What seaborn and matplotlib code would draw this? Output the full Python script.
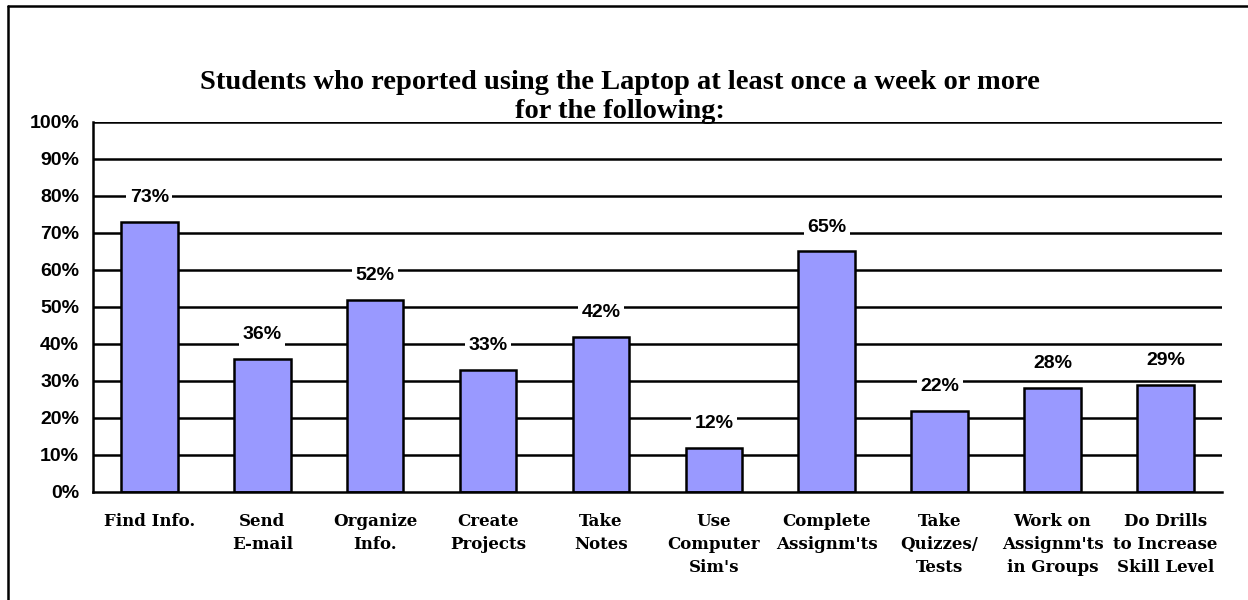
import matplotlib
matplotlib.use("Agg")
import matplotlib.pyplot as plt
import seaborn as sns
import pandas as pd
import numpy as np
from matplotlib.lines import Line2D

# data
activities = ["Find Info.", "Send\nE-mail", "Organize\nInfo.", "Create\nProjects", "Take\nNotes",
              "Use\nComputer\nSim's", "Complete\nAssignm'ts", "Take\nQuizzes/\nTests",
              "Work on\nAssignm'ts\nin Groups", "Do Drills\nto Increase\nSkill Level"]
percent = [73, 36, 52, 33, 42, 12, 65, 22, 28, 29]
yticks = list(range(0, 101, 10))
title_lines = ["Students who reported using the Laptop at least once a week or more",
               "for the following:"]

df = pd.DataFrame({"Activity": activities, "Percent": percent})

sns.set_style("white")
plt.rcParams["text.color"] = "black"
plt.rcParams["xtick.color"] = "black"
plt.rcParams["ytick.color"] = "black"
plt.rcParams["axes.labelcolor"] = "black"

fig = plt.figure(figsize=(12.48, 6), dpi=100)
ax = fig.add_axes([0.0745, 0.18, 0.9045, 0.6167])

ax.set_axisbelow(True)
for t in yticks[1:]:
    ax.axhline(t, color="black", lw=1.8, zorder=0)

sns.barplot(data=df, x="Activity", y="Percent", color="#9999FF", edgecolor="black",
            linewidth=1.8, width=0.5, saturation=1, ax=ax, zorder=2)

for i, v in enumerate(percent):
    ax.text(i, v + 6.6, f"{v}%", ha="center", va="center", fontsize=14, fontweight="bold",
            family="Liberation Sans", color="black", zorder=3,
            bbox=dict(facecolor="white", edgecolor="none", pad=2.5))

ax.set_ylim(0, 100)
ax.set_xlim(-0.5, len(activities) - 0.5)
ax.set_yticks(yticks)
ax.set_yticklabels([f"{t}%" for t in yticks], fontsize=14, fontweight="bold", family="Liberation Sans")
ax.set_xticks(range(len(activities)))
ax.set_xticklabels(activities, fontsize=12, fontweight="bold", family="DejaVu Serif", linespacing=1.45)
ax.set_xlabel("")
ax.set_ylabel("")
ax.tick_params(axis="x", which="major", length=0, pad=15)
ax.set_xticks(np.arange(-0.5, len(activities), 1), minor=True)
ax.tick_params(axis="x", which="minor", length=7, width=1.8, direction="out", color="black")
ax.tick_params(axis="y", length=6, width=1.8, direction="out", color="black", pad=4)

for s in ["top", "right"]:
    ax.spines[s].set_visible(False)
for s in ["left", "bottom"]:
    ax.spines[s].set_color("black")
    ax.spines[s].set_linewidth(1.8)

# title, two lines on their own baselines
for line, base_px in zip(title_lines, [89, 118]):
    fig.text(0.497, 1 - base_px / 600, line, ha="center", va="baseline", fontsize=20.5,
             fontweight="bold", family="Liberation Serif", color="black")

# outer chart border (top and left visible)
fig.add_artist(Line2D([8 / 1248, 8 / 1248], [0, 1 - 6 / 600], transform=fig.transFigure, color="black", lw=1.8))
fig.add_artist(Line2D([8 / 1248, 1], [1 - 6 / 600, 1 - 6 / 600], transform=fig.transFigure, color="black", lw=1.8))

fig.savefig("out.png", dpi=100)
